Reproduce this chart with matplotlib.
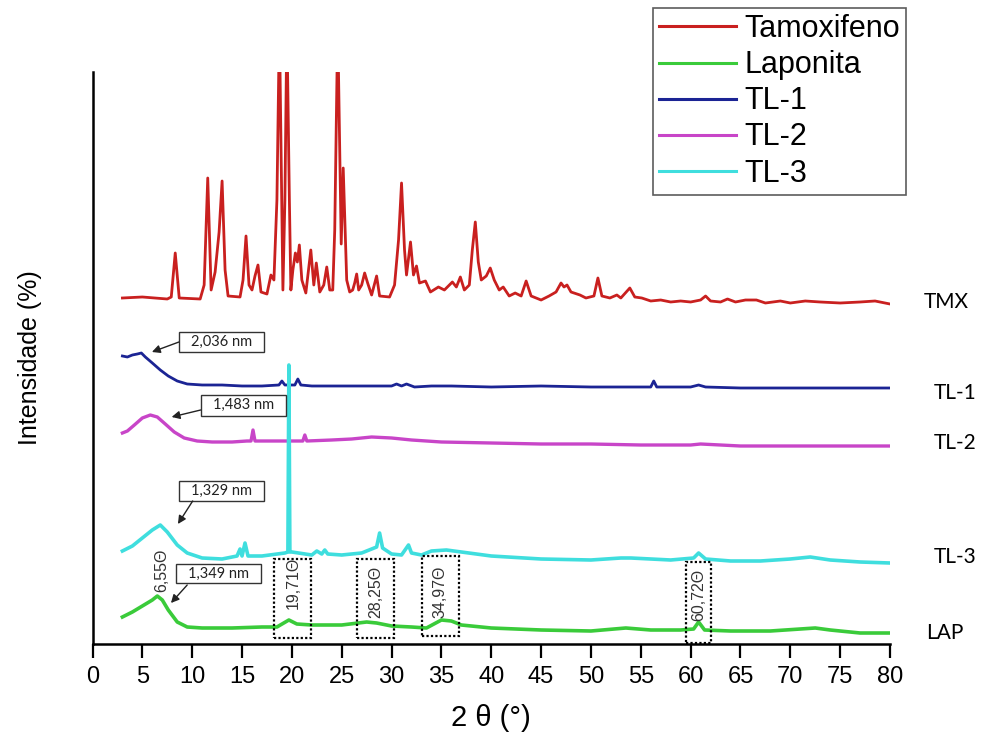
import matplotlib
matplotlib.use("Agg")
import matplotlib.pyplot as plt
from matplotlib.patches import Rectangle

plt.rcParams['font.family'] = ['Liberation Sans', 'DejaVu Sans']

# ---------------- data (stacked intensities, a.u.) ----------------
tmx_x = [3.0, 5.0, 7.5, 7.9, 8.3, 8.7, 10.8, 11.2, 11.56, 11.9, 12.3, 12.7, 13.0, 13.3, 13.6,
         14.8, 15.1, 15.4, 15.7, 16.0, 16.3, 16.6, 16.9, 17.5, 17.9, 18.2, 18.5, 18.75,
         19.1, 19.3, 19.5, 19.75, 19.9, 20.1, 20.35, 20.55, 20.75, 21.0, 21.4, 21.9, 22.2,
         22.45, 22.8, 23.2, 23.5, 23.8, 24.1, 24.3, 24.6, 24.95, 25.15, 25.5, 25.8, 26.1,
         26.3, 26.5, 26.7, 27.0, 27.3, 27.6, 28.0, 28.5, 28.8, 29.8, 30.3, 30.7, 31.0,
         31.3, 31.5, 31.9, 32.2, 32.5, 32.8, 33.4, 33.9, 34.7, 35.3, 35.8, 36.1, 36.5,
         36.9, 37.3, 37.8, 38.1, 38.4, 38.7, 39.0, 39.5, 39.9, 40.3, 40.8, 41.2, 41.8,
         42.4, 43.0, 43.5, 44.0, 45.0, 45.8, 46.5, 47.0, 47.3, 47.6, 48.0, 48.9, 49.5,
         50.3, 50.7, 51.1, 51.9, 52.6, 53.0, 53.9, 54.4, 55.1, 56.0, 57.0, 58.0, 59.0,
         60.0, 61.0, 61.5, 62.0, 63.0, 63.7, 64.5, 65.5, 66.6, 67.5, 69.0, 70.0, 71.5,
         73.0, 75.0, 77.0, 78.5, 80.0]
tmx_y = [346, 347, 345, 347, 391, 346, 345, 359, 466, 354, 372, 412, 463, 374, 348,
         347, 364, 408, 359, 354, 368, 379, 352, 350, 369, 364, 444, 620,
         354, 444, 620, 444, 354, 374, 391, 382, 399, 364, 351, 394, 359,
         381, 352, 359, 377, 354, 354, 414, 620, 400, 476, 364, 352, 354,
         361, 370, 354, 359, 371, 361, 349, 368, 348, 347, 359, 404, 461,
         394, 369, 402, 369, 378, 361, 363, 352, 357, 354, 359, 362, 357,
         367, 354, 359, 394, 422, 382, 364, 368, 376, 364, 354, 357, 348,
         351, 348, 363, 348, 344, 348, 352, 361, 357, 359, 352, 349, 346,
         348, 366, 348, 346, 349, 346, 356, 347, 346, 343, 344, 342, 343,
         342, 344, 348, 343, 342, 345, 342, 344, 344, 341, 343, 341, 343,
         342, 341, 342, 343, 340]

tl1_x = [3.0, 3.5, 4.0, 4.5, 4.9, 5.3, 6.0, 6.8, 7.6, 8.5, 9.5, 11, 13, 15, 17, 18.7,
         19.0, 19.3, 20.3, 20.6, 20.9, 22, 25, 28, 30, 30.5, 31, 31.5, 32.3, 34, 36,
         40, 45, 50, 52, 56.0, 56.3, 56.6, 60, 60.8, 61.5, 65, 70, 75, 80]
tl1_y = [288, 287, 289, 290, 291, 287, 281, 274, 268, 263, 260, 259, 259, 258, 258, 259,
         263, 259, 259, 265, 259, 258, 258, 258, 258, 260, 258, 260, 257, 258, 258,
         257, 258, 257, 257, 257, 263, 257, 257, 259, 257, 256, 256, 256, 256]

tl2_x = [3.0, 3.5, 4.2, 5.0, 5.8, 6.5, 7.3, 8.2, 9.2, 10.5, 12, 14, 15.5, 15.9, 16.1,
         16.3, 18, 20, 21.1, 21.3, 21.5, 24, 26, 28, 30, 32, 35, 40, 45, 50, 55, 60,
         61, 65, 70, 75, 80]
tl2_y = [211, 213, 219, 226, 229, 227, 220, 212, 206, 203, 202, 202, 203, 203, 214,
         203, 203, 203, 203, 209, 203, 204, 205, 207, 206, 204, 202, 201, 200, 200, 199, 199,
         200, 198, 198, 198, 198]

tl3_x = [3.0, 4.0, 5.0, 6.0, 6.8, 7.5, 8.5, 9.5, 11, 13, 14.5, 14.8, 15.0, 15.3, 15.6,
         17, 19.3, 19.6, 19.7, 19.8, 20.0, 22, 22.5, 23, 23.3, 23.6, 25, 27, 28.5, 28.8,
         29.1, 30, 31.0, 31.7, 32.0, 33, 34, 35.5, 37, 40, 45, 50, 53, 54, 56, 58, 60.3,
         60.8, 61.5, 64, 67, 70, 72, 74, 77, 80]
tl3_y = [93, 98, 106, 114, 119, 112, 99, 91, 86, 85, 88, 95, 88, 101, 88,
         88, 91, 92, 279, 92, 92, 89, 93, 90, 94, 90, 89, 91, 97, 111,
         96, 90, 89, 99, 91, 89, 93, 94, 92, 88, 85, 84, 86, 86, 85, 84, 86,
         91, 85, 83, 83, 85, 87, 84, 82, 81]

lap_x = [3.0, 4.0, 5.0, 6.0, 6.5, 7.0, 7.6, 8.5, 9.5, 11, 14, 17, 18.5, 19.7, 20.5, 22,
         25, 27.5, 28.5, 30, 32, 33.5, 35.0, 36.0, 37, 40, 45, 50, 53.5, 56, 59, 60.3,
         60.8, 61.4, 64, 68, 72.5, 74, 77, 80]
lap_y = [27, 32, 38, 44, 48, 44, 34, 22, 17, 16, 16, 17, 17, 24, 20, 19,
         19, 22, 21, 18, 17, 16, 24, 23, 19, 16, 14, 13, 16, 14, 14, 15,
         22, 14, 13, 13, 16, 14, 11, 11]

series_names = ['Tamoxifeno', 'Laponita', 'TL-1', 'TL-2', 'TL-3']
side_labels = ['TMX', 'TL-1', 'TL-2', 'TL-3', 'LAP']
d_spacing = ['2,036 nm', '1,483 nm', '1,329 nm', '1,349 nm']
peak_labels = ['6,55Θ', '19,71Θ', '28,25Θ', '34,97Θ', '60,72Θ']
xticks = list(range(0, 81, 5))

colors = {'Tamoxifeno': '#c9201f', 'Laponita': '#3acb3a', 'TL-1': '#1b2494',
          'TL-2': '#c845c8', 'TL-3': '#3fdede'}

# ---------------- figure ----------------
W, H = 983, 735
fig = plt.figure(figsize=(W / 100, H / 100), dpi=100)
ax = fig.add_axes([92.5 / W, (H - 644) / H, (890 - 92.5) / W, (644 - 72) / H])

ax.plot(tmx_x, tmx_y, color=colors['Tamoxifeno'], lw=2.0, label='Tamoxifeno')
ax.plot(lap_x, lap_y, color=colors['Laponita'], lw=2.6, label='Laponita')
ax.plot(tl1_x, tl1_y, color=colors['TL-1'], lw=2.0, label='TL-1')
ax.plot(tl2_x, tl2_y, color=colors['TL-2'], lw=2.4, label='TL-2')
ax.plot(tl3_x, tl3_y, color=colors['TL-3'], lw=2.6, label='TL-3')

ax.set_xlim(0, 80)
ax.set_ylim(0, 572)
ax.set_xticks(xticks)
ax.set_yticks([])
for s in ['top', 'right']:
    ax.spines[s].set_visible(False)
ax.spines['left'].set_linewidth(1.8)
ax.spines['bottom'].set_linewidth(1.8)
ax.tick_params(axis='x', direction='out', length=10, width=1.6, labelsize=17, pad=6)

ax.set_xlabel('2 θ (°)', fontsize=21, labelpad=11)
ax.set_ylabel('Intensidade (%)', fontsize=18, labelpad=36)

# side labels
side_pos = [(85.6, 342), (86.5, 251), (86.5, 201), (86.5, 87), (85.5, 11)]
for lab, (x, y) in zip(side_labels, side_pos):
    ax.text(x, y, lab, fontsize=15, family=['Lato', 'DejaVu Sans'], ha='center', va='center',
            clip_on=False)

# d-spacing boxes with arrows
boxes = [(8.67, 292, 8.52, 20), (10.85, 228.3, 8.52, 20.7), (8.67, 143.3, 8.52, 20),
         (8.37, 61, 8.52, 19)]
arrows = [((8.67, 302), (5.96, 292)), ((10.85, 234), (7.94, 227)),
          ((10.05, 143), (8.57, 120)), ((9.5, 59), (7.87, 41))]
for lab, (x0, y0, w, h), (start, end) in zip(d_spacing, boxes, arrows):
    ax.add_patch(Rectangle((x0, y0), w, h, fill=True, facecolor='white',
                           edgecolor='#333333', lw=1.0, zorder=5))
    ax.text(x0 + w / 2, y0 + h / 2, lab, fontsize=10.5, family=['Lato', 'DejaVu Sans'],
            ha='center', va='center', zorder=6, color='#222222')
    ax.annotate('', xy=end, xytext=start,
                arrowprops=dict(arrowstyle='-|>', color='#222222', lw=1.0,
                                mutation_scale=12, shrinkA=0, shrinkB=0), zorder=6)

# peak labels (rotated) and dotted boxes
ax.text(6.94, 74, peak_labels[0], rotation=90, fontsize=11.5, ha='center', va='center',
        color='#333333')
pboxes = [(18.2, 5.7, 3.7, 79), (26.55, 5.7, 3.68, 79), (33.06, 8.3, 3.68, 79.7),
          (59.57, 1.3, 2.5, 81)]
ptext = [(20.13, 61), (28.42, 52.3), (34.9, 52.3), (60.8, 49)]
for lab, (x0, y0, w, h), (tx, ty) in zip(peak_labels[1:], pboxes, ptext):
    ax.add_patch(Rectangle((x0, y0), w, h, fill=False, edgecolor='black', lw=1.6,
                           linestyle=(0, (1, 1)), zorder=5))
    ax.text(tx, ty, lab, rotation=90, fontsize=11.5, ha='center', va='center',
            color='#333333', zorder=6)

leg = ax.legend(loc='upper left', bbox_to_anchor=(653 / W, 1 - 8 / H),
                bbox_transform=fig.transFigure, borderaxespad=0, fontsize=22,
                frameon=True, fancybox=False, edgecolor='#333333', handlelength=2.5,
                handletextpad=0.3, labelspacing=0.2, borderpad=0.2)
leg.get_frame().set_linewidth(1.2)
for line in leg.get_lines():
    line.set_linewidth(2.2)

fig.savefig('out.png', dpi=100)
